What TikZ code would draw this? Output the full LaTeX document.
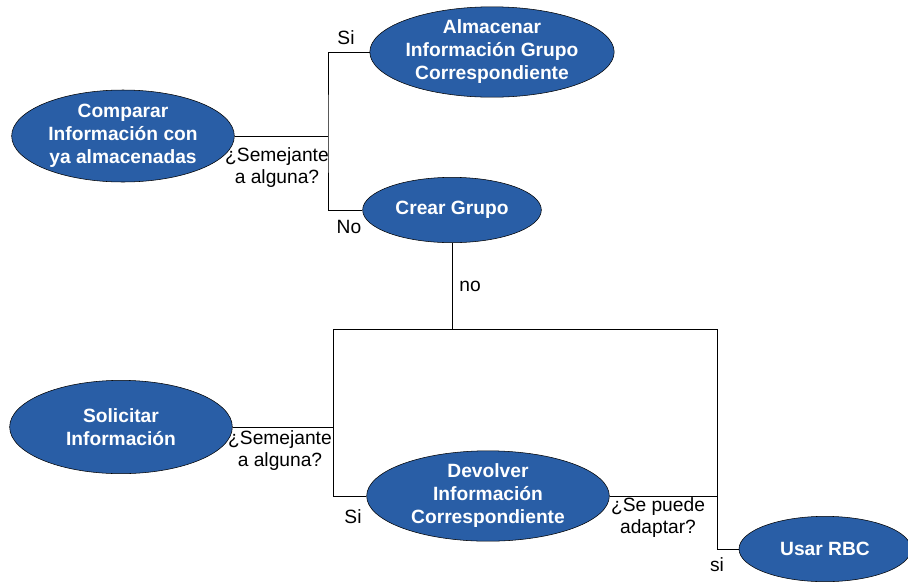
\documentclass[tikz,border=0pt]{standalone}
\usepackage{fontspec}
\setmainfont{Liberation Sans}
\usetikzlibrary{shapes.geometric}
\definecolor{azulelipse}{RGB}{41,94,166}
\tikzset{
  elipse/.style={ellipse, draw=black, fill=azulelipse, text=white, align=center, inner sep=0pt,
    font=\fontsize{14.4}{17.25}\selectfont\bfseries},
  etiqueta/.style={align=center, inner sep=0pt, font=\fontsize{14.4}{16.5}\selectfont}
}

\begin{document}
\begin{tikzpicture}[x=0.75pt,y=-0.75pt]
   \useasboundingbox (0,0) rectangle (908,583);
   % parte de arriba
   \node [elipse, minimum width=167pt, minimum height=69pt] (comparar) at (123,136) {Comparar\\Información con\\ya almacenadas};
   \node [elipse, minimum width=183pt, minimum height=67.5pt] (almacenar) at (492,52) {Almacenar\\Información Grupo\\Correspondiente};
   \node [elipse, minimum width=134pt, minimum height=49pt] (crear) at (452,210) {Crear Grupo};
   \coordinate (rama1) at (328,136);
   \draw (comparar.east) -- (rama1);
   \draw (almacenar.west) -| (rama1) |- (crear.west);
   \node [etiqueta] (si1) at (346,38) {Si};
   \node [etiqueta] (no1) at (349,227) {No};
   \node [etiqueta] (sem1) at (277,168) {¿Semejante\\a alguna?};
   % parte de abajo
   \node [elipse, minimum width=167pt, minimum height=70pt] (solicitar) at (121,427) {Solicitar\\Información};
   \node [elipse, minimum width=182pt, minimum height=66pt] (devolver) at (488,496) {Devolver\\Información\\Correspondiente};
   \node [elipse, minimum width=129pt, minimum height=49pt] (usar) at (825,549) {Usar RBC};
   \coordinate (izq) at (333,329);
   \coordinate (der) at (717,329);
   \draw (crear.south) -- (crear.south |- izq);
   \draw (solicitar.east) -- (solicitar.east -| izq);
   \draw (devolver.west) -| (izq) -- (der) |- (usar.west);
   \draw (devolver.east) -- (devolver.east -| der);
   \node [etiqueta] (no2) at (470,286) {no};
   \node [etiqueta] (sem2) at (280,451) {¿Semejante\\a alguna?};
   \node [etiqueta] (si2) at (353,517) {Si};
   \node [etiqueta] (adaptar) at (658,518) {¿Se puede\\adaptar?};
   \node [etiqueta] (si3) at (717,565) {si};
\end{tikzpicture}
\end{document}
